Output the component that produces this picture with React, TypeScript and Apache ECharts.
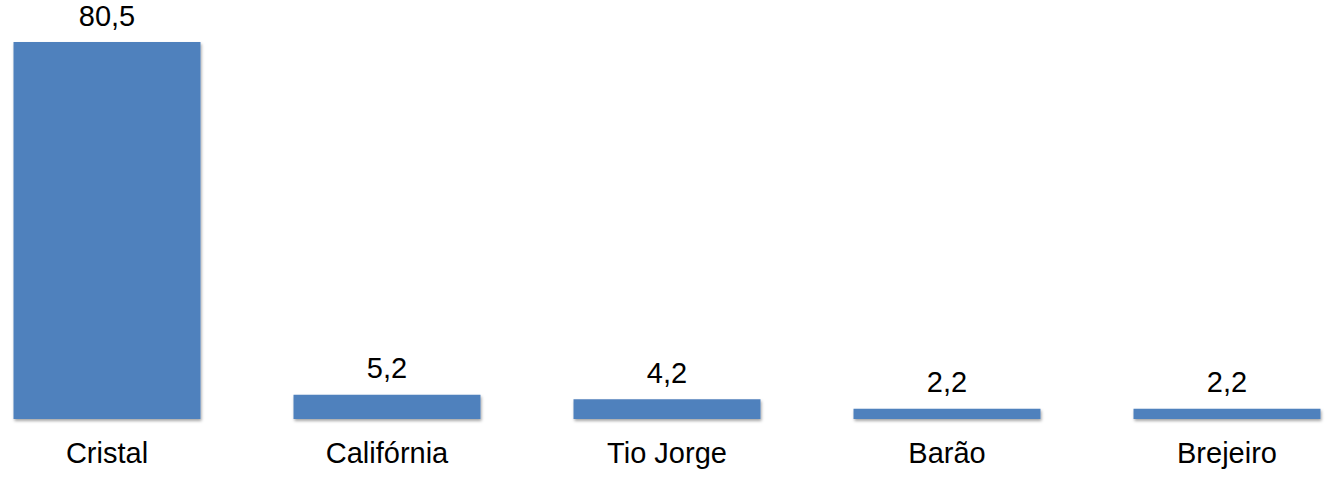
import React, { useEffect, useRef } from 'react';
import * as echarts from 'echarts';

const categories = ['Cristal', 'Califórnia', 'Tio Jorge', 'Barão', 'Brejeiro'];
const values = [80.5, 5.2, 4.2, 2.2, 2.2];

const fmt = (v: number) => v.toFixed(1).replace('.', ',');

const App = () => {
  const chartRef = useRef<HTMLDivElement>(null);

  useEffect(() => {
    document.body.style.margin = '0';
    document.body.style.overflow = 'hidden';
    const chart = echarts.init(chartRef.current, null, { renderer: 'svg' });

    const options = {
      animation: false,
      textStyle: { fontFamily: '"Liberation Sans", Arial, sans-serif' },
      grid: { left: 0, right: 0, top: 42, bottom: 59 },
      xAxis: {
        type: 'category',
        data: categories,
        axisLine: { show: false },
        axisTick: { show: false },
        axisLabel: {
          color: '#000',
          fontSize: 29,
          margin: 19,
          fontFamily: '"Liberation Sans", Arial, sans-serif',
        },
      },
      yAxis: {
        type: 'value',
        min: 0,
        max: 80.5,
        show: false,
        splitLine: { show: false },
      },
      series: [
        {
          type: 'bar',
          data: values,
          barWidth: 187,
          itemStyle: {
            color: '#4F81BD',
            shadowBlur: 3,
            shadowOffsetX: 1,
            shadowOffsetY: 2,
            shadowColor: 'rgba(0,0,0,0.35)',
          },
          label: {
            show: true,
            position: 'top',
            distance: 12,
            color: '#000',
            fontSize: 29,
            lineHeight: 29,
            fontFamily: '"Liberation Sans", Arial, sans-serif',
            formatter: (p: any) => fmt(p.value),
          },
        },
      ],
    };

    chart.setOption(options);

    const onResize = () => chart.resize();
    window.addEventListener('resize', onResize);

    return () => {
      window.removeEventListener('resize', onResize);
      chart.dispose();
    };
  }, []);

  // the plot is wider than the window: first and last bands are cut at the edges
  return (
    <div
      ref={chartRef}
      style={{ width: '1400px', height: '478px', marginLeft: '-33.5px' }}
    ></div>
  );
};

export default App;
